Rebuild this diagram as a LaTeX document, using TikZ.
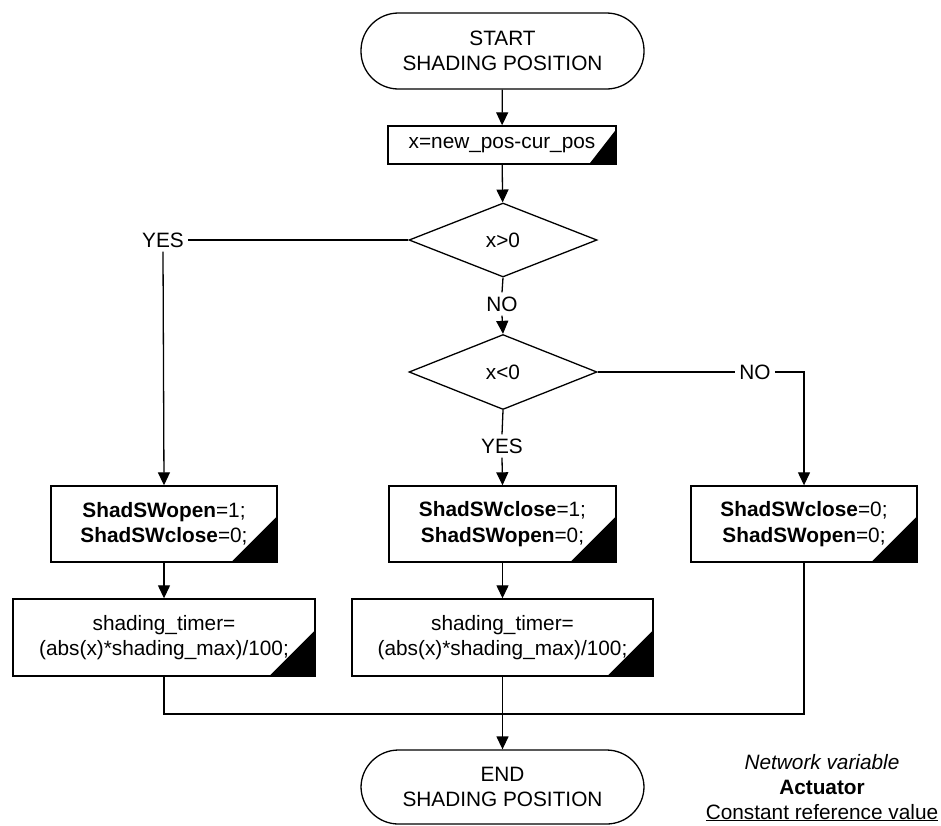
\documentclass[tikz,border=0pt]{standalone}
\usepackage{fontspec}
\setmainfont{Liberation Sans}
\usetikzlibrary{arrows.meta,shapes.geometric}

% black corner wedge marking an actuator block: node, width, height
\newcommand\actcorner[3]{\fill (#1.south east) -- ++(-#2,0) -- ++(#2,-#3) -- cycle;}

\tikzset{
  txt/.style={font=\fontsize{20.8}{25.5}\selectfont, align=center},
  term/.style={txt, draw, line width=1.3pt, rectangle, rounded corners=37.5pt,
               minimum width=283pt, inner sep=0pt},
  proc/.style={txt, draw, line width=1.4pt, rectangle, inner sep=0pt, minimum height=76pt},
  cond/.style={txt, draw, line width=1.3pt, diamond, inner sep=0pt,
               minimum width=188pt, minimum height=74pt},
  lbl/.style={txt, inner sep=4pt},
  flow/.style={line width=1.3pt},
  arr/.style={flow, -{Triangle[length=13pt,width=12pt]}},
}

\begin{document}
\begin{tikzpicture}[x=1pt, y=-1pt]
  \useasboundingbox (0,0) rectangle (941,825);
  \fill[white] (0,0) rectangle (941,825);

  % terminals
  \node[term, minimum height=76pt] (start) at (502.5,51) {START\\SHADING POSITION};
  \node[term, minimum height=74pt] (stop) at (502.5,787) {END\\SHADING POSITION};

  % computation of the position difference
  \node[proc, minimum width=228pt, minimum height=38pt] (diff) at (502,145) {x=new\_pos-cur\_pos};

  % decisions
  \node[cond] (gt) at (503,240) {x\textgreater0};
  \node[cond, minimum height=75pt] (lt) at (503,372) {x\textless0};

  % branch labels
  \node[lbl] (yesA) at (163,240) {YES};
  \node[lbl] (noA) at (502,304) {NO};
  \node[lbl] (yesB) at (502,446) {YES};
  \node[lbl] (noB) at (755,372) {NO};

  % actuator blocks
  \node[proc, minimum width=226pt] (open) at (164,524)
    {\textbf{ShadSWopen}=1;\\\textbf{ShadSWclose}=0;};
  \node[proc, minimum width=227pt] (close) at (502.5,524)
    {\textbf{ShadSWclose}=1;\\\textbf{ShadSWopen}=0;};
  \node[proc, minimum width=226pt] (stay) at (804,524)
    {\textbf{ShadSWclose}=0;\\\textbf{ShadSWopen}=0;};

  % timer blocks
  \node[proc, minimum width=302pt, minimum height=77pt] (timA) at (164,637.5)
    {shading\_timer=\\(abs(x)*shading\_max)/100;};
  \node[proc, minimum width=301pt, minimum height=77pt] (timB) at (502.5,637.5)
    {shading\_timer=\\(abs(x)*shading\_max)/100;};

  % corner wedges
  \actcorner{diff}{28}{36}
  \actcorner{open}{47}{47}
  \actcorner{close}{47}{47}
  \actcorner{stay}{47}{47}
  \actcorner{timA}{47}{47}
  \actcorner{timB}{47}{47}

  % connectors
  \draw[arr] (start) -- (diff);
  \draw[arr] (diff) -- (gt);
  \draw[flow] (gt.west) -- (yesA.east);
  \draw[arr] (yesA.south) -- (open.north);
  \draw[flow] (gt.south) -- (noA.north);
  \draw[arr] (noA.south) -- (lt.north);
  \draw[flow] (lt.south) -- (yesB.north);
  \draw[arr] (yesB.south) -- (close.north);
  \draw[flow] (lt.east) -- (noB.west);
  \draw[arr] (noB.east) -| (stay.north);
  \draw[arr] (open) -- (timA);
  \draw[arr] (close) -- (timB);

  \coordinate (join) at (502.5,714);
  \draw[flow] (timA.south) |- (join);
  \draw[flow] (stay.south) |- (join);
  \draw[arr] (timB.south) -- (stop.north);

  % legend
  \node[txt, anchor=base, inner sep=0pt] (legNet) at (822,769) {\itshape Network variable};
  \node[txt, anchor=base, inner sep=0pt] (legAct) at (822,794) {\bfseries Actuator};
  \node[txt, anchor=base, inner sep=0pt] (legConst) at (822,819) {\underline{Constant reference value}};
\end{tikzpicture}
\end{document}
